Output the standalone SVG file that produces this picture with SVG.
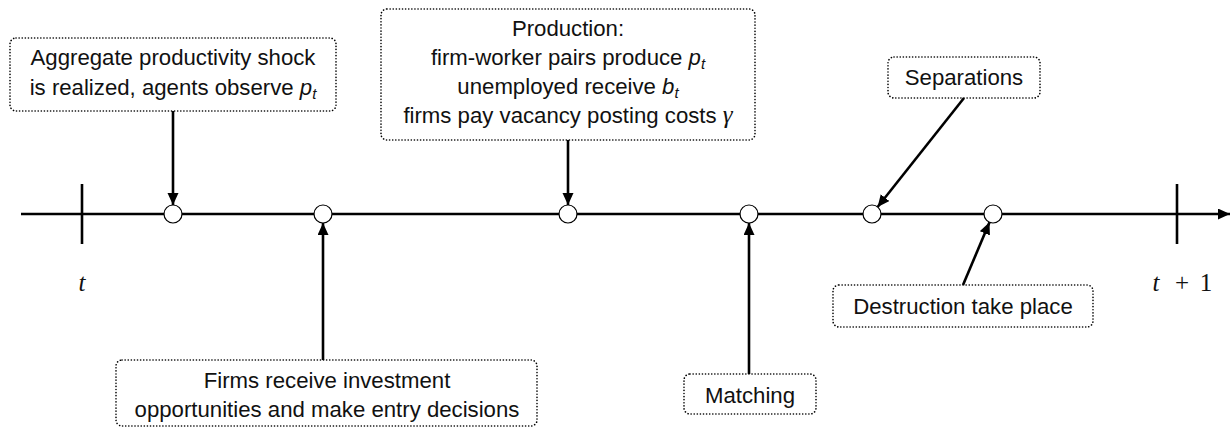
<svg xmlns="http://www.w3.org/2000/svg" width="1232" height="434" viewBox="0 0 1232 434">
<defs>
<style>
.box{fill:none;stroke:#000;stroke-width:1.6;stroke-dasharray:0.1 3;stroke-linecap:round}
.lbl{font-family:"Liberation Sans",Arial,sans-serif;font-size:22.2px;fill:#111;text-anchor:middle}
.mi{font-style:italic}
.sub{font-size:15px;font-style:italic}
.mth{font-family:"Liberation Serif","Times New Roman",serif;font-size:25px;fill:#111;text-anchor:middle}
.arr{stroke:#000;stroke-width:2.6;fill:none;marker-end:url(#ah)}
.tl{stroke:#000;stroke-width:2.6;fill:none}
.ev{fill:#fff;stroke:#000;stroke-width:1.2}
</style>
<marker id="ah" markerUnits="userSpaceOnUse" markerWidth="14" markerHeight="12" refX="12" refY="5.5" orient="auto" viewBox="0 0 14 12">
<path d="M0,0 L12,5.5 L0,11 z" fill="#000"/>
</marker>
</defs>
<g id="timeline">
<line class="tl" x1="21" y1="214" x2="1230" y2="214" marker-end="url(#ah)"/>
<line class="tl" x1="82" y1="184" x2="82" y2="244"/>
<line class="tl" x1="1177" y1="184" x2="1177" y2="244"/>
<text class="mth" x="82" y="291"><tspan font-style="italic">t</tspan></text>
<text class="mth" x="1182" y="291"><tspan x="1156" font-style="italic">t</tspan><tspan x="1182">+</tspan><tspan x="1206">1</tspan></text>
</g>
<g id="connectors">
<line class="arr" x1="173" y1="111" x2="173" y2="205"/>
<line class="arr" x1="568" y1="140" x2="568" y2="205"/>
<line class="arr" x1="323" y1="360" x2="323" y2="223"/>
<line class="arr" x1="749" y1="374" x2="749" y2="223"/>
<line class="arr" x1="964" y1="98" x2="877.6" y2="207"/>
<line class="arr" x1="963" y1="285" x2="989.5" y2="222.3"/>
</g>
<g id="events">
<circle class="ev" cx="173" cy="214" r="9"/>
<circle class="ev" cx="323" cy="214" r="9"/>
<circle class="ev" cx="568" cy="214" r="9"/>
<circle class="ev" cx="749" cy="214" r="9"/>
<circle class="ev" cx="872" cy="214" r="9"/>
<circle class="ev" cx="993" cy="214" r="9"/>
</g>
<g id="shock">
<rect class="box" x="10" y="38" width="326" height="73" rx="6"/>
<text class="lbl" x="173" y="65">Aggregate productivity shock</text>
<text class="lbl" x="173" y="95">is realized, agents observe <tspan class="mi">p</tspan><tspan class="sub" dy="4">t</tspan></text>
</g>
<g id="production">
<rect class="box" x="381" y="9" width="374" height="131" rx="6"/>
<text class="lbl" x="568" y="36">Production:</text>
<text class="lbl" x="568" y="65">firm-worker pairs produce <tspan class="mi">p</tspan><tspan class="sub" dy="4">t</tspan></text>
<text class="lbl" x="568" y="94">unemployed receive <tspan class="mi">b</tspan><tspan class="sub" dy="4">t</tspan></text>
<text class="lbl" x="568" y="123">firms pay vacancy posting costs <tspan font-family="Liberation Serif,serif" font-style="italic" font-size="25px">γ</tspan></text>
</g>
<g id="separations">
<rect class="box" x="888" y="57" width="152" height="41" rx="6"/>
<text class="lbl" x="964" y="85">Separations</text>
</g>
<g id="destruction">
<rect class="box" x="833" y="285" width="260" height="42" rx="6"/>
<text class="lbl" x="963" y="314">Destruction take place</text>
</g>
<g id="entry">
<rect class="box" x="116" y="360" width="421" height="66" rx="6"/>
<text class="lbl" x="327" y="388">Firms receive investment</text>
<text class="lbl" x="327" y="417">opportunities and make entry decisions</text>
</g>
<g id="matching">
<rect class="box" x="684" y="374" width="132" height="40" rx="6"/>
<text class="lbl" x="750" y="403">Matching</text>
</g>
</svg>
